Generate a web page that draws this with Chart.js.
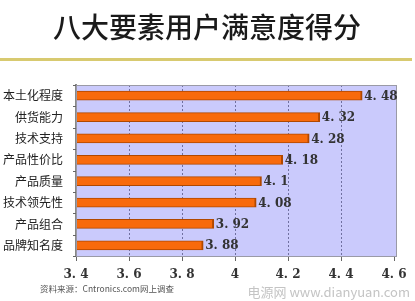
<!DOCTYPE html>
<html><head><meta charset="utf-8">
<script src="https://cdn.jsdelivr.net/npm/chart.js@4/dist/chart.umd.min.js"></script>
<style>html,body{margin:0;padding:0;background:#fff;}#wrap{width:415px;height:301px;position:relative;}</style>
</head><body><div id="wrap"><canvas id="c" width="415" height="301"></canvas></div>
<script>
const titleText = "八大要素用户满意度得分";
const categories = ["本土化程度","供货能力","技术支持","产品性价比","产品质量","技术领先性","产品组合","品牌知名度"];
const scores = [4.48, 4.32, 4.28, 4.18, 4.1, 4.08, 3.92, 3.88];
const xTicks = [3.4, 3.6, 3.8, 4, 4.2, 4.4, 4.6];
const sourceText = "资料来源：Cntronics.com网上调查";
const watermarkText = "电源网 www.dianyuan.com";

const decor = {
  id: 'decor',
  beforeDraw(chart) {
    const {ctx, chartArea: a} = chart;
    ctx.save();
    ctx.fillStyle = '#ffffff';
    ctx.fillRect(0, 0, chart.width, chart.height);
    ctx.fillStyle = '#cacafc';
    ctx.fillRect(a.left, a.top, a.right - a.left + 3, a.bottom - a.top);
    ctx.fillStyle = '#1a1a1a';
    ctx.font = '500 28px "Noto Sans CJK SC"';
    ctx.textAlign = 'center';
    ctx.textBaseline = 'middle';
    ctx.fillText(titleText, 207, 27);
    ctx.fillStyle = '#d8ca70';
    ctx.fillRect(0, 58, 412, 3);
    ctx.restore();
  },
  beforeDatasetsDraw(chart) {
    const {ctx, chartArea: a} = chart;
    const xs = chart.scales.x;
    const ys = chart.scales.y;
    ctx.save();
    ctx.strokeStyle = '#7070a0';
    ctx.lineWidth = 1;
    ctx.setLineDash([2, 2]);
    xTicks.slice(1, -1).forEach(v => {
      const px = Math.round(xs.getPixelForValue(v)) + 0.5;
      ctx.beginPath(); ctx.moveTo(px, a.top); ctx.lineTo(px, a.bottom); ctx.stroke();
    });
    ctx.setLineDash([]);
    ctx.strokeStyle = '#666';
    xTicks.forEach(v => {
      const px = Math.round(xs.getPixelForValue(v)) + 0.5;
      ctx.beginPath(); ctx.moveTo(px, a.bottom); ctx.lineTo(px, a.bottom + 5); ctx.stroke();
    });
    // category boundary tick marks on left axis
    const step = (a.bottom - a.top) / categories.length;
    for (let i = 0; i <= categories.length; i++) {
      const py = Math.round(a.top + i * step) + 0.5;
      ctx.beginPath(); ctx.moveTo(a.left - 3, py); ctx.lineTo(a.left, py); ctx.stroke();
    }
    ctx.restore();
  },
  afterDraw(chart) {
    const {ctx, chartArea: a} = chart;
    ctx.save();
    ctx.strokeStyle = '#9a9aa6';
    ctx.lineWidth = 1;
    ctx.strokeRect(a.left + 0.5, a.top + 0.5, a.right - a.left + 2, a.bottom - a.top);
    const meta = chart.getDatasetMeta(0);
    ctx.fillStyle = '#333';
    ctx.font = 'bold 12px "DejaVu Serif"';
    ctx.textAlign = 'left';
    ctx.textBaseline = 'middle';
    meta.data.forEach((bar, i) => {
      ctx.fillText(String(scores[i]).replace('.', '. '), bar.x + 2, bar.y + 1);
    });
    ctx.fillStyle = '#555';
    ctx.font = '8.5px "Noto Sans CJK SC"';
    ctx.textAlign = 'left';
    ctx.fillText(sourceText, 40, 289);
    ctx.fillStyle = '#c4c4c4';
    ctx.font = '13px "Noto Sans CJK SC"';
    ctx.textAlign = 'right';
    ctx.fillText(watermarkText, 410, 292);
    ctx.restore();
  }
};

new Chart(document.getElementById('c'), {
  type: 'bar',
  data: {
    labels: categories,
    datasets: [{
      data: scores,
      backgroundColor: '#f86a0c',
      borderColor: '#b04800',
      borderWidth: {top: 1, bottom: 1, right: 2, left: 0},
      borderSkipped: 'left',
      barThickness: 9
    }]
  },
  options: {
    indexAxis: 'y',
    responsive: false,
    animation: false,
    layout: {padding: {left: 0, right: 21, top: 85, bottom: 0}},
    plugins: {legend: {display: false}, tooltip: {enabled: false}, title: {display: false}},
    scales: {
      x: {
        min: xTicks[0], max: xTicks[xTicks.length - 1],
        afterBuildTicks(s) { s.ticks = xTicks.map(v => ({value: v})); },
        afterFit(s) { s.height = 45; },
        grid: {display: false},
        border: {display: false},
        ticks: {
          color: '#333',
          font: {family: '"DejaVu Serif"', size: 12, weight: 'bold'},
          padding: 4,
          callback: (v) => String(v).replace('.', '. ')
        }
      },
      y: {
        afterFit(s) { s.width = 76; },
        grid: {display: false},
        border: {display: true, color: '#888', width: 2},
        ticks: {
          color: '#222',
          font: {family: '"Noto Sans CJK SC"', size: 12},
          padding: 5
        }
      }
    }
  },
  plugins: [decor]
});
</script></body></html>
